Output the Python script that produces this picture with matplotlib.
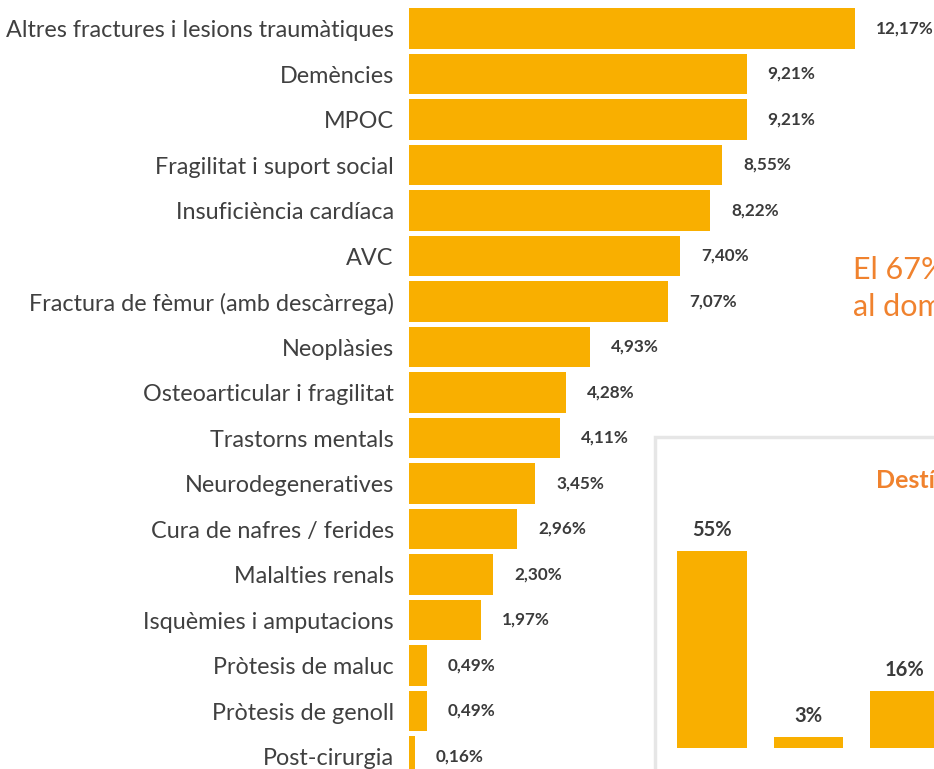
import matplotlib
matplotlib.use('Agg')
import matplotlib.pyplot as plt
from matplotlib.patches import Rectangle

plt.rcParams['font.family'] = ['Lato', 'DejaVu Sans']

# main chart data
categories = ['Altres fractures i lesions traumàtiques', 'Demències', 'MPOC',
              'Fragilitat i suport social', 'Insuficiència cardíaca', 'AVC',
              'Fractura de fèmur (amb descàrrega)', 'Neoplàsies',
              'Osteoarticular i fragilitat', 'Trastorns mentals', 'Neurodegeneratives',
              'Cura de nafres / ferides', 'Malalties renals', 'Isquèmies i amputacions',
              'Pròtesis de maluc', 'Pròtesis de genoll', 'Post-cirurgia']
values = [12.17, 9.21, 9.21, 8.55, 8.22, 7.40, 7.07, 4.93, 4.28, 4.11,
          3.45, 2.96, 2.30, 1.97, 0.49, 0.49, 0.16]

# inset chart (cropped in the source)
dest_values = [55, 3, 16]
dest_title = 'Destí'
side_text = ['El 67%', 'al domicili']

BAR = '#f9af00'
DARK = '#3b3b3b'
ORANGE = '#f0822e'

W, H = 934, 769
fig = plt.figure(figsize=(W / 100, H / 100), dpi=100)


def px_axes(x0, y0, x1, y1):
    # pixel box (top-left origin) -> figure fraction
    return fig.add_axes([x0 / W, 1 - y1 / H, (x1 - x0) / W, (y1 - y0) / H])


# ---- main horizontal bars ----
ax = px_axes(409, 0, W, H)
ax.patch.set_alpha(0)
px_per = 446 / 12.17
pitch = 45.5
y = list(range(len(categories)))
ax.barh(y, values, height=0.9, color=BAR)
ax.set_xlim(0, (W - 409) / px_per)
ax.set_ylim((H - 28.5) / pitch, -28.5 / pitch)
ax.set_yticks(y)
ax.set_yticklabels(categories, fontsize=16.8, color='#404040')
ax.tick_params(axis='y', length=0, pad=11)
ax.set_xticks([])
for s in ax.spines.values():
    s.set_visible(False)
for i, v in enumerate(values):
    ax.annotate(f'{v:.2f}%'.replace('.', ','), (v, i), xytext=(15, 0),
                textcoords='offset points', va='center', ha='left',
                fontsize=12.3, fontweight='bold', color=DARK)

# ---- side text ----
fig.text(853 / W, 1 - 270 / H, side_text[0], fontsize=22,
         color=ORANGE, va='center', ha='left')
fig.text(853 / W, 1 - 307 / H, side_text[1], fontsize=22,
         color=ORANGE, va='center', ha='left')

# ---- inset box ----
box = Rectangle((655 / W, -0.1), 0.5, 1 - 437 / H + 0.1,
                transform=fig.transFigure, facecolor='white',
                edgecolor='#e6e6e6', linewidth=2.5, zorder=-1)
fig.patches.append(box)
fig.text(876 / W, 1 - 481 / H, dest_title, fontsize=18, fontweight='bold',
         color=ORANGE, va='center', ha='left')

ax2 = px_axes(664, 450, W, 748)
ax2.patch.set_alpha(0)
xs = list(range(len(dest_values)))
ax2.bar(xs, dest_values, width=0.725, color=BAR)
ax2.set_xlim((664 - 712) / 96.5, (W - 712) / 96.5)
ax2.set_ylim(0, 298 / 3.58)
ax2.axis('off')
for i, v in enumerate(dest_values):
    ax2.annotate(f'{v}%', (i, v), xytext=(0, 8), textcoords='offset points',
                 ha='center', va='bottom', fontsize=14.5, fontweight='bold',
                 color=DARK)

fig.savefig('out.png', dpi=100)
